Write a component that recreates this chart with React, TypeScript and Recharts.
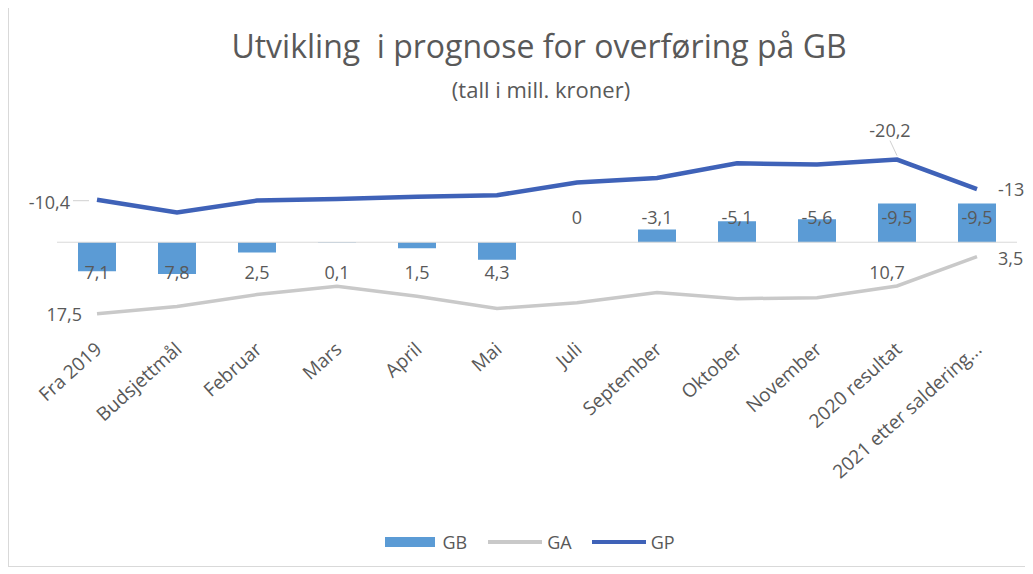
import React from 'react';
import { ComposedChart, Bar, Line, XAxis, YAxis, ReferenceLine, LabelList } from 'recharts';

const categories = [
  'Fra 2019', 'Budsjettmål', 'Februar', 'Mars', 'April', 'Mai',
  'Juli', 'September', 'Oktober', 'November', '2020 resultat', '2021 etter saldering...',
];
const gbValues = [7.1, 7.8, 2.5, 0.1, 1.5, 4.3, 0, -3.1, -5.1, -5.6, -9.5, -9.5];
const gaValues = [17.5, 15.7, 12.8, 10.8, 13.2, 16.2, 14.8, 12.3, 13.8, 13.6, 10.7, 3.5];
const gpValues = [-10.4, -7.3, -10.2, -10.6, -11.1, -11.5, -14.6, -15.7, -19.3, -19.0, -20.2, -13];

const data = categories.map((cat, i) => ({ cat, GB: gbValues[i], GA: gaValues[i], GP: gpValues[i] }));

const FONT = '"Open Sans", "Noto Sans", sans-serif';
const TXT = '#595959';
const BLUE = '#5b9bd5';
const DARK = '#3f62b8';
const GREY = '#c9c9c9';
const LABEL_SIZE = 18;

const fmt = (v: number) => String(v).replace('.', ',');

const XTick = (props: any) => {
  const { x, y, payload } = props;
  return (
    <g transform={`translate(${x + 6},${y + 19})`}>
      <text x={0} y={0} textAnchor="end" transform="rotate(-42)" fill={TXT} fontSize={19} fontFamily={FONT}>
        {payload.value}
      </text>
    </g>
  );
};

// labels for GB, carried by an invisible series sitting on the zero line
const GbLabel = (props: any) => {
  const { x, y, value } = props;
  const ly = value > 0 ? y + 30 : y - 25;
  return (
    <text x={x} y={ly} textAnchor="middle" dominantBaseline="central" fill={TXT} fontSize={LABEL_SIZE} fontFamily={FONT}>
      {fmt(value)}
    </text>
  );
};

const GpLabel = (props: any) => {
  const { x, y, value, index } = props;
  const common = { fill: TXT, fontSize: LABEL_SIZE, fontFamily: FONT, dominantBaseline: 'central' as const };
  if (index === 0) {
    return (
      <g>
        <line x1={x - 24} y1={y + 1} x2={x - 8} y2={y + 1} stroke="#d0d0d0" />
        <text x={x - 27} y={y + 2} textAnchor="end" {...common}>{fmt(value)}</text>
      </g>
    );
  }
  if (index === 10) {
    return (
      <g>
        <line x1={x - 7} y1={y - 19} x2={x} y2={y - 4} stroke="#d0d0d0" />
        <text x={x - 7} y={y - 30} textAnchor="middle" {...common}>{fmt(value)}</text>
      </g>
    );
  }
  if (index === 11) {
    return <text x={x + 21} y={y} textAnchor="start" {...common}>{fmt(value)}</text>;
  }
  return null;
};

const GaLabel = (props: any) => {
  const { x, y, value, index } = props;
  const common = { fill: TXT, fontSize: LABEL_SIZE, fontFamily: FONT, dominantBaseline: 'central' as const };
  if (index === 0) return <text x={x - 15} y={y} textAnchor="end" {...common}>{fmt(value)}</text>;
  if (index === 10) return <text x={x - 10} y={y - 14} textAnchor="middle" {...common}>{fmt(value)}</text>;
  if (index === 11) return <text x={x + 21} y={y + 1} textAnchor="start" {...common}>{fmt(value)}</text>;
  return null;
};

export default function App() {
  return (
    <div style={{ position: 'relative', width: 1022, height: 560, background: '#fff', fontFamily: FONT }}>
      <div style={{ position: 'absolute', left: 0, top: -3, width: 1022, height: 562, border: '1px solid #d9d9d9', boxSizing: 'border-box' }} />
      <div style={{ position: 'absolute', left: 20, width: 1022, top: 16, textAlign: 'center', fontSize: 32, color: TXT }}>
        Utvikling&nbsp; i prognose for overføring på GB
      </div>
      <div style={{ position: 'absolute', left: 22, width: 1022, top: 66, textAlign: 'center', fontSize: 22, color: TXT }}>
        (tall i mill. kroner)
      </div>
      <ComposedChart width={1022} height={560} data={data} margin={{ top: 132, right: 13, bottom: 94, left: 49 }}>
        <XAxis dataKey="cat" interval={0} axisLine={false} tickLine={false} height={150} tick={<XTick />} />
        <YAxis hide reversed domain={[-25, 20]} allowDataOverflow />
        <ReferenceLine y={0} stroke="#d9d9d9" strokeWidth={1} />
        <Bar dataKey="GB" fill={BLUE} barSize={38} isAnimationActive={false} />
        <Line dataKey="GA" stroke={GREY} strokeWidth={3.5} dot={false} type="linear" isAnimationActive={false}>
          <LabelList dataKey="GA" content={<GaLabel />} />
        </Line>
        <Line dataKey="GP" stroke={DARK} strokeWidth={4.5} dot={false} type="linear" isAnimationActive={false}>
          <LabelList dataKey="GP" content={<GpLabel />} />
        </Line>
        <Line dataKey={() => 0} stroke="none" dot={false} activeDot={false} isAnimationActive={false}>
          <LabelList dataKey="GB" content={<GbLabel />} />
        </Line>
      </ComposedChart>
      <div style={{ position: 'absolute', top: 524, left: 0, width: 1022, height: 20, display: 'flex', justifyContent: 'center', alignItems: 'center', fontSize: 18, color: TXT, paddingLeft: 22, boxSizing: 'border-box' }}>
        <span style={{ display: 'inline-block', width: 50, height: 10, background: BLUE, marginRight: 7 }} />
        <span style={{ marginRight: 21 }}>GB</span>
        <span style={{ display: 'inline-block', width: 54, height: 4, background: GREY, marginRight: 5 }} />
        <span style={{ marginRight: 20 }}>GA</span>
        <span style={{ display: 'inline-block', width: 54, height: 4, background: DARK, marginRight: 5 }} />
        <span>GP</span>
      </div>
    </div>
  );
}
